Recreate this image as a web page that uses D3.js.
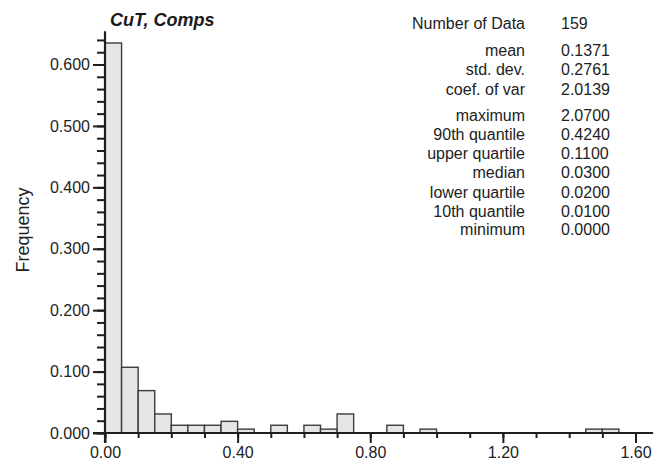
<!DOCTYPE html>
<html>
<head>
<meta charset="utf-8">
<script src="https://cdn.jsdelivr.net/npm/d3@7/dist/d3.min.js"></script>
<style>
  html, body { margin: 0; padding: 0; background: #ffffff; }
  svg { display: block; font-family: "Liberation Sans", Arial, Helvetica, sans-serif; }
</style>
</head>
<body>
<svg id="chart" width="671" height="464"></svg>
<script>
// ---- data ----
const binStarts   = [0.00, 0.05, 0.10, 0.15, 0.20, 0.25, 0.30, 0.35, 0.40, 0.50, 0.60, 0.65, 0.70, 0.85, 0.95, 1.45, 1.50];
const frequencies = [0.635, 0.107, 0.069, 0.031, 0.0126, 0.0126, 0.0126, 0.019, 0.0063, 0.0126, 0.0126, 0.0063, 0.031, 0.0126, 0.0063, 0.0063, 0.0063];
const binWidth = 0.05;
const xTicks = [0.0, 0.4, 0.8, 1.2, 1.6];
const xMinorTicks = [0.0,0.1,0.2,0.3,0.4,0.5,0.6,0.7,0.8,0.9,1.0,1.1,1.2,1.3,1.4,1.5,1.6];
const yTicks = [0.0, 0.1, 0.2, 0.3, 0.4, 0.5, 0.6];
const yMinorTicks = [0.00,0.02,0.04,0.06,0.08,0.10,0.12,0.14,0.16,0.18,0.20,0.22,0.24,0.26,0.28,0.30,0.32,0.34,0.36,0.38,0.40,0.42,0.44,0.46,0.48,0.50,0.52,0.54,0.56,0.58,0.60,0.62,0.64];
const title = "CuT, Comps";
const yLabel = "Frequency";
const statLabels = ["Number of Data", "mean", "std. dev.", "coef. of var", "maximum", "90th quantile", "upper quartile", "median", "lower quartile", "10th quantile", "minimum"];
const statValues = ["159", "0.1371", "0.2761", "2.0139", "2.0700", "0.4240", "0.1100", "0.0300", "0.0200", "0.0100", "0.0000"];

// ---- chart ----
const svg = d3.select("#chart");
const x = d3.scaleLinear().domain([0, 1.6]).range([105, 635.5]);
const y = d3.scaleLinear().domain([0, 0.6]).range([433, 64.5]);
const ink = "#1e1e1e";
const font = "'Liberation Sans', Arial, Helvetica, sans-serif";

// bars
svg.append("g").selectAll("rect")
  .data(binStarts.map((s, i) => ({ s, f: frequencies[i] })))
  .join("rect")
  .attr("x", d => x(d.s))
  .attr("width", d => x(d.s + binWidth) - x(d.s))
  .attr("y", d => y(d.f))
  .attr("height", d => y(0) - y(d.f))
  .attr("fill", "#e6e6e6")
  .attr("stroke", "#3c3c3c")
  .attr("stroke-width", 1.4);

// x axis minor ticks
const xMinor = svg.append("g").attr("transform", `translate(0,${y(0)})`)
  .call(d3.axisBottom(x).tickValues(xMinorTicks).tickSize(5).tickFormat(""));
xMinor.select(".domain").remove();
xMinor.selectAll("line").attr("stroke", ink).attr("stroke-width", 2);

// x axis major
const xAx = svg.append("g").attr("transform", `translate(0,${y(0)})`)
  .call(d3.axisBottom(x).tickValues(xTicks).tickSize(10).tickPadding(4).tickFormat(d3.format(".2f")));
xAx.select(".domain").remove();
xAx.selectAll("line").attr("stroke", ink).attr("stroke-width", 2);
xAx.selectAll("text").attr("font-size", 16).attr("fill", "#222").attr("font-family", font);

// y axis minor ticks
const yMinor = svg.append("g").attr("transform", `translate(${x(0)},0)`)
  .call(d3.axisLeft(y).tickValues(yMinorTicks).tickSize(8).tickFormat(""));
yMinor.select(".domain").remove();
yMinor.selectAll("line").attr("stroke", ink).attr("stroke-width", 2);

// y axis major
const yAx = svg.append("g").attr("transform", `translate(${x(0)},0)`)
  .call(d3.axisLeft(y).tickValues(yTicks).tickSize(12).tickPadding(3).tickFormat(d3.format(".3f")));
yAx.select(".domain").remove();
yAx.selectAll("line").attr("stroke", ink).attr("stroke-width", 2);
yAx.selectAll("text").attr("font-size", 16).attr("fill", "#222").attr("font-family", font);

// axis lines
svg.append("line")
  .attr("x1", x(-0.036)).attr("x2", x(1.653))
  .attr("y1", y(0)).attr("y2", y(0))
  .attr("stroke", ink).attr("stroke-width", 2.2);
svg.append("line")
  .attr("x1", x(0)).attr("x2", x(0))
  .attr("y1", y(-0.016)).attr("y2", y(0.654))
  .attr("stroke", ink).attr("stroke-width", 2.2);

// title
svg.append("text")
  .attr("x", x(0.015)).attr("y", 26)
  .attr("font-size", 18).attr("font-weight", "bold").attr("font-style", "italic")
  .attr("fill", "#1a1a1a")
  .text(title);

// y label
svg.append("text")
  .attr("transform", `translate(29,${230}) rotate(-90)`)
  .attr("text-anchor", "middle")
  .attr("font-size", 18).attr("fill", "#222")
  .text(yLabel);

// stats
const statY = [23, 50, 69, 89, 115, 134, 153, 172, 192, 211, 229];
const stats = svg.append("g").attr("font-size", 16).attr("fill", "#222");
stats.selectAll("text.lab").data(statLabels).join("text")
  .attr("class", "lab")
  .attr("x", 525).attr("y", (d, i) => statY[i]).attr("dy", "0.35em")
  .attr("text-anchor", "end").text(d => d);
stats.selectAll("text.val").data(statValues).join("text")
  .attr("class", "val")
  .attr("x", 561).attr("y", (d, i) => statY[i]).attr("dy", "0.35em")
  .attr("text-anchor", "start").text(d => d);
</script>
</body>
</html>
